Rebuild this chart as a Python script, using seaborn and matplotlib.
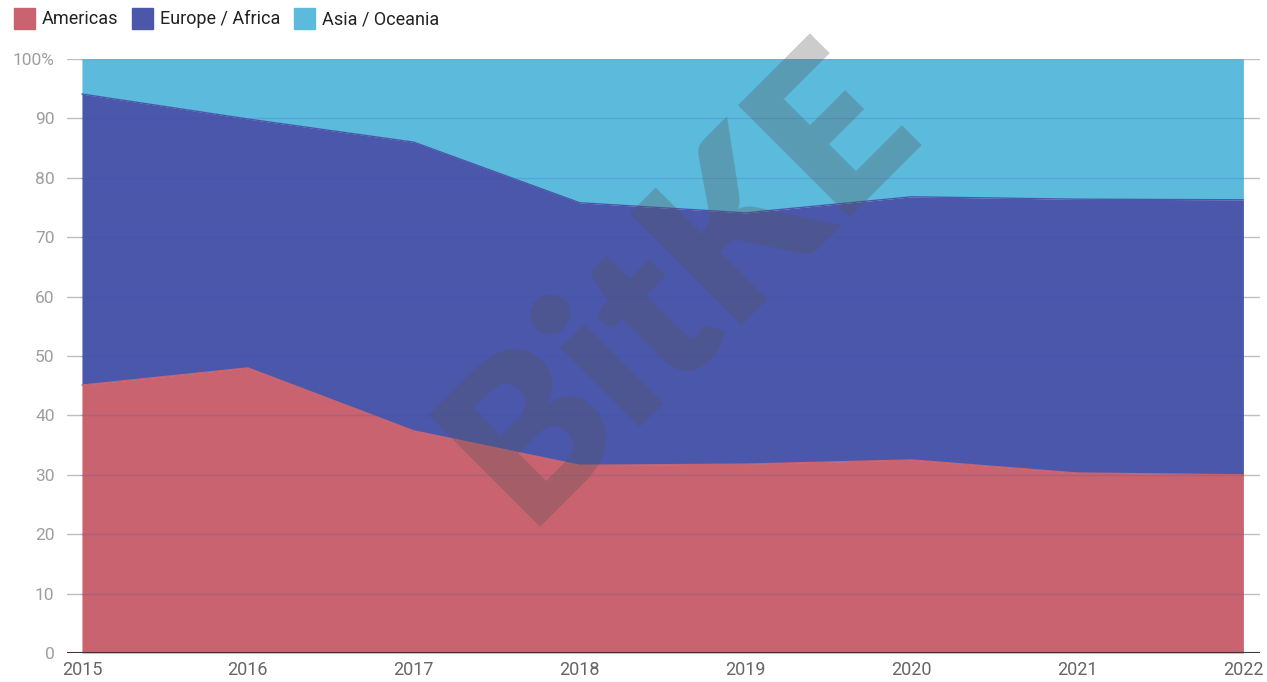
import matplotlib
matplotlib.use("Agg")
import matplotlib.pyplot as plt
import seaborn as sns
import pandas as pd
import numpy as np
from matplotlib.patches import Patch

years = [2015, 2016, 2017, 2018, 2019, 2020, 2021, 2022]
americas = [45.1, 48.0, 37.4, 31.6, 31.8, 32.5, 30.3, 30.0]
europe_africa = [49.0, 41.9, 48.6, 44.2, 42.3, 44.3, 46.1, 46.3]
asia_oceania = [5.9, 10.1, 14.0, 24.2, 25.9, 23.2, 23.6, 23.7]
series_names = ["Americas", "Europe / Africa", "Asia / Oceania"]
colors = ["#C8636F", "#4B57AA", "#5CBADC"]
y_ticks = [0, 10, 20, 30, 40, 50, 60, 70, 80, 90, 100]
y_labels = ["0", "10", "20", "30", "40", "50", "60", "70", "80", "90", "100%"]

sns.set_theme(style="white")
plt.rcParams['font.family'] = ['Roboto', 'DejaVu Sans']

fig = plt.figure(figsize=(12.67, 6.82), dpi=100)
ax = fig.add_axes([67/1267, 29/682, (1260-67)/1267, 594/682])

df = pd.DataFrame({"year": years, "Americas": americas,
                   "Europe / Africa": europe_africa, "Asia / Oceania": asia_oceania})
ax.stackplot(df["year"], df["Americas"], df["Europe / Africa"], df["Asia / Oceania"],
             colors=colors, linewidth=0, zorder=1)

# boundary lines via seaborn
cum = np.cumsum(np.array([americas, europe_africa, asia_oceania]), axis=0)
for i in range(2):
    sns.lineplot(x=years, y=cum[i], ax=ax, color=colors[i], linewidth=1.0, zorder=2)

ax.set_xlim(2014.91, 2022.1)
ax.set_ylim(0, 100)
ax.set_yticks(y_ticks)
ax.set_yticklabels(y_labels)
ax.set_xticks(years)
ax.set_xticklabels([str(y) for y in years])

for t in y_ticks[1:]:
    ax.axhline(t, color="#BFBFBF", linewidth=1.0, zorder=0.5)
    ax.axhline(t, xmin=0.012, xmax=0.986, color="#3050C0", alpha=0.18, linewidth=1.0, zorder=3)
ax.axhline(0, color="#4a3036", linewidth=1.5, zorder=4)

for s in ax.spines.values():
    s.set_visible(False)
ax.tick_params(axis="y", length=0, pad=9, labelsize=12.5, labelcolor="#9E9E9E")
ax.tick_params(axis="x", length=0, pad=6, labelsize=13, labelcolor="#666666")
ax.set_xlabel("")
ax.set_ylabel("")

handles = [Patch(facecolor=c, edgecolor=c) for c in colors]
fig.legend(handles, series_names, loc="upper left", bbox_to_anchor=(-0.002, 1.012),
           ncol=3, frameon=False, fontsize=13, handlelength=1.2, handleheight=1.4,
           handletextpad=0.35, columnspacing=0.75, labelcolor="#222222")

fig.text(0.537, 0.585, "BitKE", rotation=45, fontsize=156, fontweight="heavy",
         color="#555555", alpha=0.3, ha="center", va="center", family="Lato")

fig.savefig("out.png", dpi=100)
